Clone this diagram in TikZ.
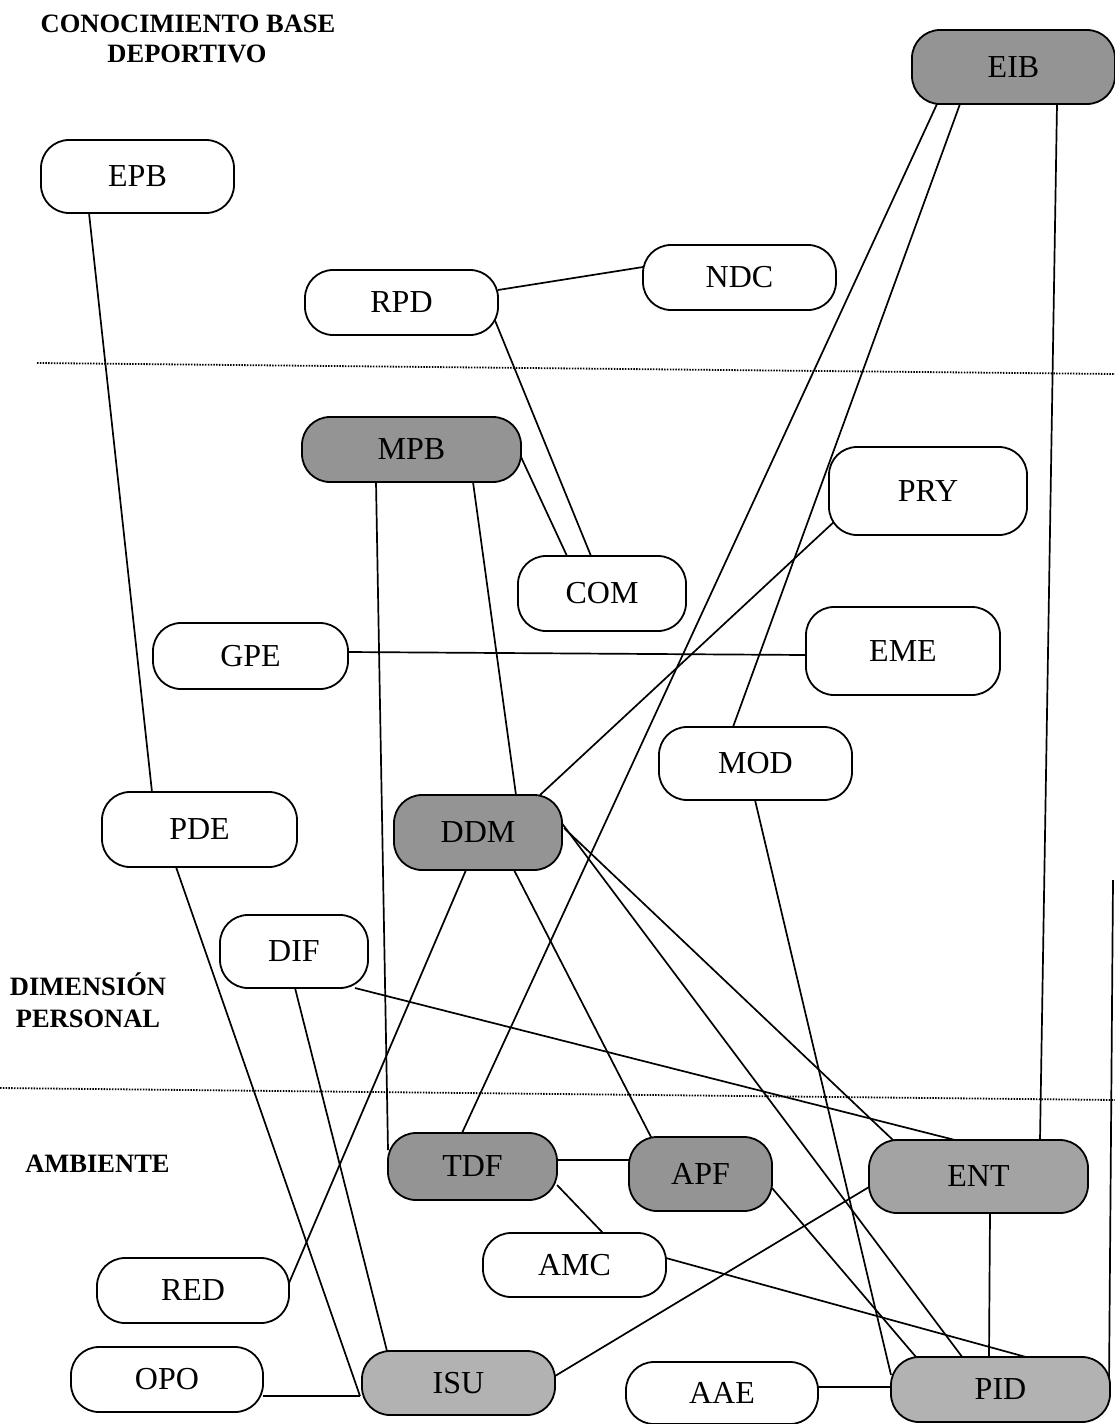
\documentclass[tikz,border=0pt]{standalone}
\usepackage{fontspec}
\setmainfont{Liberation Serif}
\usetikzlibrary{calc,backgrounds}

\pgfdeclarelayer{paper}
\pgfsetlayers{paper,background,main}

\definecolor{shadeA}{gray}{0.58}
\definecolor{shadeB}{gray}{0.64}
\definecolor{shadeC}{gray}{0.70}

\tikzset{
  box/.style={draw, line width=1.8pt, rounded corners=28pt, fill=white,
              inner sep=0pt, font=\fontsize{32}{36}\selectfont},
  dark/.style={box, fill=shadeA},
  mid/.style={box, fill=shadeB},
  light/.style={box, fill=shadeC},
  link/.style={line width=1.7pt},
  divider/.style={line width=1.8pt, dash pattern=on 1.5pt off 1.3pt},
  zone/.style={font=\bfseries\fontsize{26.5}{30}\selectfont, inner sep=0pt, anchor=base}
}

\begin{document}
\begin{tikzpicture}[x=1pt, y=-1pt]
\useasboundingbox (0,0) rectangle (1115,1424);
\begin{pgfonlayer}{paper}
\fill[white] (0,0) rectangle (1115,1424);
\end{pgfonlayer}

% zone titles
\node[zone] (zt1) at (188,32) {CONOCIMIENTO BASE};
\node[zone] (zt2) at (187,62) {DEPORTIVO};
\node[zone] (zt3) at (88,995) {DIMENSIÓN};
\node[zone] (zt4) at (88,1027) {PERSONAL};
\node[zone] (zt5) at (97.5,1172) {AMBIENTE};

% zone boundaries
\coordinate (d1a) at (37,363);
\coordinate (d1b) at (1115,374);
\coordinate (d2a) at (0,1088);
\coordinate (d2b) at (1115,1100);
\draw[divider] (d1a) -- (d1b);
\draw[divider] (d2a) -- (d2b);

% concepts
\node[box,  minimum width=193pt, minimum height=73pt] (EPB) at (137.5,176.5) {EPB};
\node[dark, minimum width=203pt, minimum height=74pt] (EIB) at (1013.5,67) {EIB};
\node[box,  minimum width=193pt, minimum height=65pt] (NDC) at (739.5,277.5) {NDC};
\node[box,  minimum width=193pt, minimum height=65pt] (RPD) at (401.5,302.5) {RPD};
\node[dark, minimum width=219pt, minimum height=65pt] (MPB) at (411.5,449.5) {MPB};
\node[box,  minimum width=198pt, minimum height=88pt] (PRY) at (928,491) {PRY};
\node[box,  minimum width=168pt, minimum height=75pt] (COM) at (602,593.5) {COM};
\node[box,  minimum width=195pt, minimum height=66pt] (GPE) at (250.5,656) {GPE};
\node[box,  minimum width=194pt, minimum height=88pt] (EME) at (903,651) {EME};
\node[box,  minimum width=193pt, minimum height=73pt] (MOD) at (755.5,763.5) {MOD};
\node[box,  minimum width=195pt, minimum height=75pt] (PDE) at (199.5,829.5) {PDE};
\node[dark, minimum width=168pt, minimum height=75pt] (DDM) at (478,832.5) {DDM};
\node[box,  minimum width=148pt, minimum height=73pt] (DIF) at (294,951.5) {DIF};
\node[dark, minimum width=169pt, minimum height=67pt] (TDF) at (472.5,1166.5) {TDF};
\node[dark, minimum width=143pt, minimum height=74pt] (APF) at (700.5,1174) {APF};
\node[mid,  minimum width=219pt, minimum height=73pt] (ENT) at (978.5,1176.5) {ENT};
\node[box,  minimum width=183pt, minimum height=64pt] (AMC) at (574.5,1265) {AMC};
\node[box,  minimum width=192pt, minimum height=65pt] (RED) at (193,1290.5) {RED};
\node[box,  minimum width=192pt, minimum height=65pt] (OPO) at (167,1379.5) {OPO};
\node[light,minimum width=193pt, minimum height=64pt] (ISU) at (458.5,1383) {ISU};
\node[box,  minimum width=192pt, minimum height=62pt] (AAE) at (722,1393) {AAE};
\node[light,minimum width=219pt, minimum height=65pt] (PID) at (1000.5,1389.5) {PID};

\coordinate (edge) at (1113,880);

% relations, drawn behind the concepts
\begin{pgfonlayer}{background}
\draw[link] ($(EPB.center)+(-48.5,36.5)$) -- ($(PDE.center)+(-47.5,-37.5)$);
\draw[link] ($(RPD.center)+(96.5,-12.5)$) -- ($(NDC.center)+(-96.5,-10.5)$);
\draw[link] ($(RPD.center)+(92.5,15.5)$) -- ($(COM.center)+(-11,-37.5)$);
\draw[link] ($(MPB.center)+(109.5,7.5)$) -- ($(COM.center)+(-35,-37.5)$);
\draw[link] ($(MPB.center)+(-35.5,32.5)$) -- ($(TDF.center)+(-84.5,-16.5)$);
\draw[link] ($(MPB.center)+(61.5,32.5)$) -- ($(DDM.center)+(38,-37.5)$);
\draw[link] ($(DDM.center)+(62,-37.5)$) -- ($(PRY.center)+(-92,29)$);
\draw[link] ($(EIB.center)+(-76.5,37)$) -- ($(TDF.center)+(-10.5,-33.5)$);
\draw[link] ($(EIB.center)+(-53.5,37)$) -- ($(MOD.center)+(-22.5,-36.5)$);
\draw[link] ($(EIB.center)+(43.5,37)$) -- ($(ENT.center)+(61.5,-36.5)$);
\draw[link] ($(GPE.center)+(97.5,-4)$) -- ($(EME.center)+(-97,4)$);
\draw[link] ($(MOD.center)+(-0.5,36.5)$) -- ($(PID.center)+(-109.5,-14.5)$);
\draw[link] ($(DDM.center)+(-12,37.5)$) -- ($(RED.center)+(96,-7.5)$);
\draw[link] ($(DDM.center)+(36,37.5)$) -- ($(APF.center)+(-49.5,-37)$);
\draw[link] ($(DDM.center)+(83,-10.5)$) -- ($(PID.center)+(-37.5,-31.5)$);
\draw[link] ($(DDM.center)+(86,-4.5)$) -- ($(ENT.center)+(-84.5,-35.5)$);
\draw[link] ($(DIF.center)+(61,36.5)$) -- ($(ENT.center)+(-23.5,-36.5)$);
\draw[link] ($(DIF.center)+(1,36.5)$) -- ($(ISU.center)+(-71.5,-32)$);
\draw[link] ($(PDE.center)+(-23.5,37.5)$) -- ($(ISU.center)+(-98.5,13)$);
\draw[link] ($(OPO.center)+(96,16.5)$) -- ($(ISU.center)+(-98.5,13)$);
\draw[link] ($(ISU.center)+(96.5,-7)$) -- ($(ENT.center)+(-109.5,10.5)$);
\draw[link] ($(TDF.center)+(84.5,-6.5)$) -- ($(APF.center)+(-71.5,-14)$);
\draw[link] ($(TDF.center)+(84.5,18.5)$) -- ($(AMC.center)+(28.5,-32)$);
\draw[link] ($(APF.center)+(71.5,14)$) -- ($(PID.center)+(-84.5,-32.5)$);
\draw[link] ($(ENT.center)+(11.5,36.5)$) -- ($(PID.center)+(-11.5,-32.5)$);
\draw[link] ($(AMC.center)+(91.5,-7)$) -- ($(PID.center)+(25.5,-32.5)$);
\draw[link] ($(AAE.center)+(96,-6)$) -- ($(PID.center)+(-109.5,-2.5)$);
\draw[link] (edge) -- ($(PID.center)+(108.5,-4.5)$);
\end{pgfonlayer}
\end{tikzpicture}
\end{document}
